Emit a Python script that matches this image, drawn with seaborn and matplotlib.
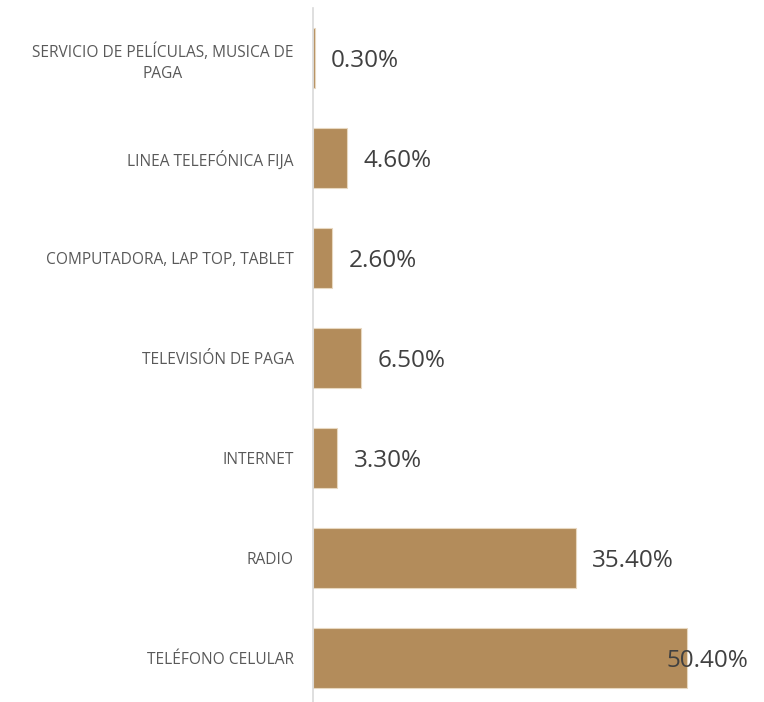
import matplotlib
matplotlib.use("Agg")
import matplotlib.pyplot as plt
import pandas as pd
import seaborn as sns

categories = [
    "SERVICIO DE PELÍCULAS, MUSICA DE\nPAGA",
    "LINEA TELEFÓNICA FIJA",
    "COMPUTADORA, LAP TOP, TABLET",
    "TELEVISIÓN DE PAGA",
    "INTERNET",
    "RADIO",
    "TELÉFONO CELULAR",
]
values = [0.3, 4.6, 2.6, 6.5, 3.3, 35.4, 50.4]
value_labels = ["0.30%", "4.60%", "2.60%", "6.50%", "3.30%", "35.40%", "50.40%"]

sns.set_theme(style="white")
plt.rcParams["font.family"] = ["Open Sans", "DejaVu Sans"]

df = pd.DataFrame({"categoria": categories, "porcentaje": values})

fig = plt.figure(figsize=(7.64, 7.02), dpi=100)
ax = fig.add_axes([313 / 764, 1 - 708 / 702, 445 / 764, 700 / 702])

sns.barplot(
    data=df,
    y="categoria",
    x="porcentaje",
    orient="h",
    color="#B38C5B",
    saturation=1,
    width=0.6,
    edgecolor="#E8D8C0",
    linewidth=0.8,
    ax=ax,
)

ax.set_xlim(0, 60)
ax.set_ylim(len(categories) - 0.5, -0.5)
ax.set_xlabel("")
ax.set_ylabel("")
ax.set_xticks([])
for side in ["top", "right", "bottom"]:
    ax.spines[side].set_visible(False)
ax.spines["left"].set_color("#D9D9D9")
ax.spines["left"].set_linewidth(1.2)

ax.tick_params(axis="y", length=0, pad=14)
for lbl in ax.get_yticklabels():
    lbl.set_fontsize(11.2)
    lbl.set_color("#595959")
    lbl.set_multialignment("center")
    lbl.set_linespacing(1.4)

for i, (v, txt) in enumerate(zip(values, value_labels)):
    offset = -14.5 if v == max(values) else 11.5
    ax.annotate(
        txt,
        xy=(v, i),
        xytext=(offset, -2.5),
        textcoords="offset points",
        ha="left",
        va="center",
        fontsize=17.5,
        color="#404040",
    )

fig.savefig("out.png", dpi=100)
